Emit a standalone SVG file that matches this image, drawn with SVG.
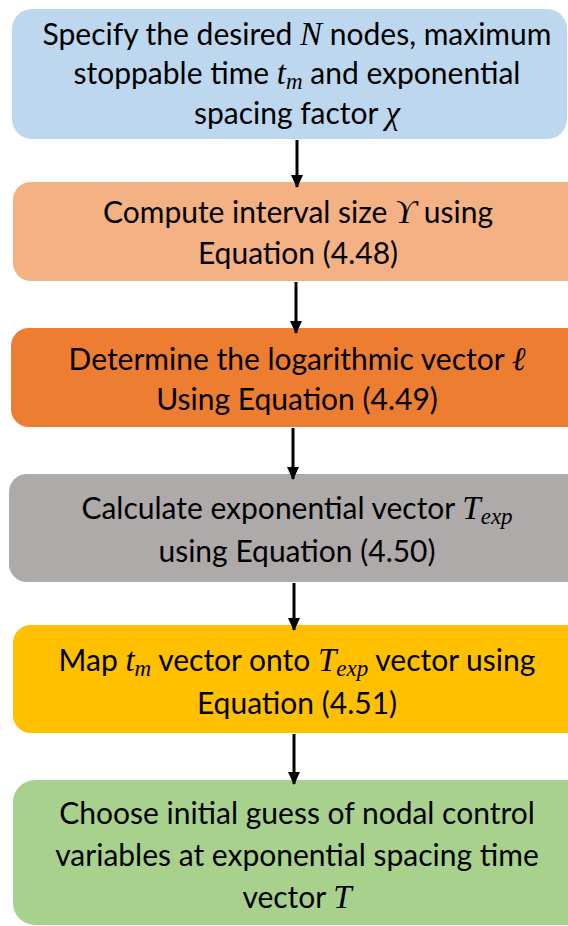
<svg xmlns="http://www.w3.org/2000/svg" width="568" height="926" viewBox="0 0 568 926">
<defs>
<style>
.t{font-family:Lato,"Open Sans","Liberation Sans",sans-serif;font-size:30px;fill:#000;text-anchor:middle}
.m{font-family:"Liberation Serif","DejaVu Serif",serif;font-style:italic;font-size:33px}
.s{font-size:23px}
.c{stroke:#000;stroke-width:3;fill:none;marker-end:url(#ah)}
</style>
<marker id="ah" viewBox="0 0 13 12" refX="12" refY="6" markerWidth="13" markerHeight="12" markerUnits="userSpaceOnUse" orient="auto">
<path d="M0,0 L13,6 L0,12 Z" fill="#000"/>
</marker>
</defs>
<rect width="568" height="926" fill="#fff"/>
<g id="n1">
<rect x="12" y="9" width="555" height="130" rx="20" fill="#BDD7EE"/>
<text class="t" x="297" y="45">Specify the desired <tspan class="m">N</tspan> nodes, maximum</text>
<text class="t" x="297" y="84">stoppable time <tspan class="m">t</tspan><tspan class="m s" dy="5">m</tspan><tspan dy="-5"> and exponential</tspan></text>
<text class="t" x="297" y="124">spacing factor <tspan class="m">χ</tspan></text>
</g>
<g id="n2">
<rect x="13" y="182" width="575" height="99" rx="18" fill="#F4B183"/>
<text class="t" x="298" y="223">Compute interval size <tspan class="m">ϒ</tspan> using</text>
<text class="t" x="298" y="264">Equation (4.48)</text>
</g>
<g id="n3">
<rect x="11" y="328" width="577" height="99" rx="18" fill="#ED7D31"/>
<text class="t" x="297" y="370">Determine the logarithmic vector <tspan class="m">ℓ</tspan></text>
<text class="t" x="297" y="410">Using Equation (4.49)</text>
</g>
<g id="n4">
<rect x="9" y="474" width="579" height="108" rx="18" fill="#AEAAAA"/>
<text class="t" x="297" y="519">Calculate exponential vector <tspan class="m">T</tspan><tspan class="m s" dy="5">exp</tspan></text>
<text class="t" x="297" y="562">using Equation (4.50)</text>
</g>
<g id="n5">
<rect x="13" y="625" width="575" height="108" rx="18" fill="#FFC000"/>
<text class="t" x="297" y="671">Map  <tspan class="m">t</tspan><tspan class="m s" dy="5">m</tspan><tspan dy="-5"> vector onto </tspan><tspan class="m">T</tspan><tspan class="m s" dy="5">exp</tspan><tspan dy="-5"> vector using</tspan></text>
<text class="t" x="297" y="714">Equation (4.51)</text>
</g>
<g id="n6">
<rect x="13" y="780" width="575" height="145" rx="22" fill="#A9D18E"/>
<text class="t" x="297" y="824">Choose initial guess of nodal control</text>
<text class="t" x="297" y="866">variables at exponential spacing time</text>
<text class="t" x="297" y="908">vector <tspan class="m">T</tspan></text>
</g>
<g id="connectors">
<line class="c" x1="297" y1="140" x2="297" y2="187"/>
<line class="c" x1="296" y1="282" x2="296" y2="333"/>
<line class="c" x1="293" y1="428" x2="293" y2="479"/>
<line class="c" x1="294" y1="583" x2="294" y2="630"/>
<line class="c" x1="294" y1="734" x2="294" y2="784"/>
</g>
</svg>
